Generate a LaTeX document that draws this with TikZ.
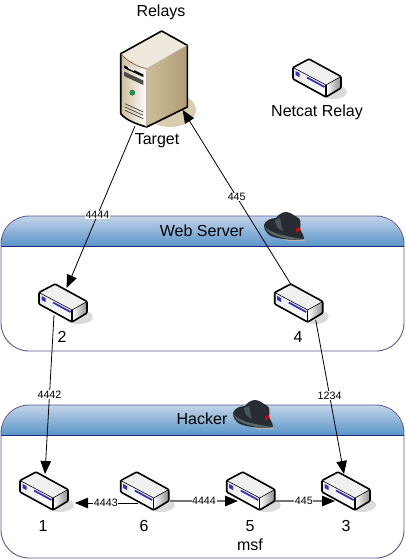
\documentclass[tikz,border=0pt]{standalone}
\usepackage{fontspec}
\setmainfont{Liberation Sans}
\usetikzlibrary{arrows.meta,shapes.geometric}
\definecolor{panelline}{RGB}{88,88,150}
\definecolor{headline}{RGB}{40,40,120}
\definecolor{headtop}{RGB}{196,212,232}
\definecolor{headbot}{RGB}{88,148,200}
\definecolor{hatdark}{RGB}{38,44,50}
\definecolor{hatbrim}{RGB}{92,104,104}
\definecolor{tan}{RGB}{217,205,176}
\definecolor{srvdark}{RGB}{176,156,116}
\definecolor{srvmid}{RGB}{240,232,215}
\definecolor{srvleft}{RGB}{205,190,155}
\tikzstyle{edge} = [draw,line width=0.8pt,-{Triangle[length=13pt,width=10.5pt]}]
\tikzstyle{greyedge} = [draw=black!55,line width=1.4pt,-{Triangle[length=13pt,width=10.5pt,color=black]}]
\tikzstyle{port} = [fill=white,inner sep=0.6pt,font=\fontsize{10.7}{12}\selectfont]
\tikzstyle{caption} = [inner sep=0pt,font=\fontsize{16}{18}\selectfont]
\tikzset{
  relay/.pic={
    \fill[black!14] (24,33) ellipse [x radius=14pt,y radius=7pt];
    \fill[black!6] (0,0) -- (-16,8.5) -- (17,26) -- (32,17.5) -- cycle;
    \shade[left color=black!8,right color=white,middle color=black!3] (-16,8.5) -- (17,26) -- (17,38) -- (-16,20) -- cycle;
    \shade[left color=white,right color=black!45] (17,26) -- (32,17.5) -- (32,29) -- (17,38) -- cycle;
    \fill[blue!70!black!80] (-13.5,12) -- (-9.5,14) -- (-9.5,18) -- (-13.5,16) -- cycle;
    \draw[blue!70!black!80,line width=1.8pt] (-2,18.5) -- (15.5,28);
    \draw[line width=1.6pt,line join=round,rounded corners=1pt] (0,0) -- (-16,8.5) -- (-16,20) -- (17,38) -- (32,29) -- (32,17.5) -- cycle;
    \draw[line width=0.6pt,line join=round] (-16,8.5) -- (17,26) -- (32,17.5);
    \draw[line width=1.1pt] (17,26) -- (17,38);
    \coordinate (-c) at (8,19);
  },
  fedora/.pic={
    \fill[black!30] (8,24) -- (24,29) -- (41,29) -- (38,22) -- cycle;
    \fill[hatdark] (0,13) .. controls (1,9) and (6,6) .. (12,6) .. controls (14,3) and (18,0) .. (22,0) .. controls (27,0) and (30,4) .. (33,5) .. controls (37,7) and (37,10) .. (36,17) .. controls (38,21) and (40,24) .. (40,27) .. controls (30,29) and (14,27) .. (7,24) .. controls (3,22) and (0,18) .. (0,13) -- cycle;
    \fill[hatbrim] (1,15) .. controls (3,21) and (10,24) .. (24,27) .. controls (30,28) and (36,28) .. (40,27) .. controls (30,26) and (22,24) .. (14,22) .. controls (8,20) and (4,18) .. (1,15) -- cycle;
    \fill[hatbrim!70!hatdark] (11,8) .. controls (11,13) and (14,17) .. (19,19) .. controls (17,14) and (17,9) .. (16,6) -- cycle;
    \fill[red!85!black] (32,17) -- (36,14.5) -- (36,18) -- (32,21) -- cycle;
  }
}

\begin{document}
\begin{tikzpicture}[x=1pt,y=-1pt]
    \useasboundingbox (0,0) rectangle (405,560);
    % panels
    \foreach \ptop/\pbot in {216/351,405/558}{
        \shade[top color=headtop,bottom color=headbot] (1,\ptop+30.5) [rounded corners=30pt] -- (1,\ptop) -- (404,\ptop) [sharp corners] -- (404,\ptop+30.5) -- cycle;
        \draw[headline] (1,\ptop+30.5) -- (404,\ptop+30.5);
        \draw[panelline,line width=0.9pt,rounded corners=28pt] (1,\ptop) rectangle (404,\pbot);
    }
    \pic at (264,212) {fedora};
    \pic at (233,400) {fedora};
    \node[caption] (web) at (202,231) {Web Server};
    \node[caption] (hacker) at (202,419) {Hacker};
    % target
    \fill[tan] (170,110) ellipse [x radius=26pt,y radius=17pt];
    \shade[left color=srvleft,right color=white] (120.7,53.7) .. controls (128,62) and (138,67) .. (146.7,68.7) -- (146.7,127) .. controls (136,124) and (126,120) .. (120.7,113.7) -- cycle;
    \fill[tan!45] (161.7,31) -- (120.7,53.7) .. controls (128,62) and (138,67) .. (146.7,68.7) -- (187.3,45.3) -- cycle;
    \shade[left color=srvleft,middle color=srvmid,right color=srvdark] (146.7,68.7) -- (187.3,45.3) -- (187.3,107) -- (146.7,127) -- cycle;
    \fill[black] (124,65.3) -- (143.3,74.5) -- (143.3,77) -- (124,68) -- cycle;
    \fill[white] (128,66.5) -- (134,69.5) -- (134,71) -- (128,68) -- cycle;
    \fill[black!70] (124,71.5) -- (143.3,80.5) -- (143.3,85) -- (124,76) -- cycle;
    \filldraw[fill=teal!70!green,draw=black!70] (132.3,92.7) circle (2.6pt);
    \draw[black!75,line width=0.7pt] (125,103.7) -- (143.3,112) (125,107) -- (143.3,115.3) (125,110.3) -- (143.3,118.7);
    \draw[line width=1.6pt,line join=round] (161.7,31) -- (120.7,53.7) -- (120.7,113.7) .. controls (126,120) and (136,124) .. (146.7,127) -- (187.3,107) -- (187.3,45.3) -- cycle;
    \draw[line width=0.7pt,brown!70!black] (120.7,53.7) .. controls (128,62) and (138,67) .. (146.7,68.7);
    \draw[black!30,line width=0.5pt] (146.7,68.7) -- (187.3,45.3) (146.7,68.7) -- (146.7,127);
    \coordinate (target) at (135,126);
    \coordinate (side) at (182.7,110);
    % relays
    \pic (netcat) at (309,59) {relay};
    \pic (r2) at (55,284) {relay};
    \pic (r4) at (290.7,284) {relay};
    \pic (r1) at (36,472) {relay};
    \pic (r6) at (136.7,472) {relay};
    \pic (r5) at (242.7,472) {relay};
    \pic (r3) at (338,472) {relay};
    \coordinate (r2top) at (66.7,288);
    \coordinate (r2bot) at (54,315);
    \coordinate (r4top) at (290.7,284);
    \coordinate (r4bot) at (315.7,320);
    \coordinate (r1top) at (45,474);
    \coordinate (r3top) at (344,474);
    \coordinate (r1end) at (75,503);
    \coordinate (r6left) at (138,503);
    \coordinate (r6right) at (170,501);
    \coordinate (r5left) at (238,501);
    \coordinate (r5right) at (275,501);
    \coordinate (r3left) at (335,501);
    % links
    \draw
    (target) edge[edge] node[port,pos=0.55] {4444} (r2top)
    (r4top) edge[edge] node[port,pos=0.5] {445} (side)
    (r2bot) edge[edge] node[port,pos=0.5] {4442} (r1top)
    (r4bot) edge[edge] node[port,pos=0.49] {1234} (r3top)
    (r6left) edge[edge] node[port,pos=0.51] {4443} (r1end)
    (r6right) edge[greyedge] node[port,pos=0.5] {4444} (r5left)
    (r5right) edge[greyedge] node[port,pos=0.48] {445} (r3left)
    ;
    % captions
    \node[caption] (relays) at (161,12) {Relays};
    \node[caption] (targetname) at (157,141) {Target};
    \node[caption] (netcatname) at (317,112) {Netcat Relay};
    \node[caption] (n2) at (62,337) {2};
    \node[caption] (n4) at (298,337) {4};
    \node[caption] (n1) at (43,526) {1};
    \node[caption] (n6) at (144,526) {6};
    \node[caption] (n5) at (250,526) {5};
    \node[caption] (n3) at (346,526) {3};
    \node[caption] (msf) at (250,545) {msf};
\end{tikzpicture}
\end{document}
